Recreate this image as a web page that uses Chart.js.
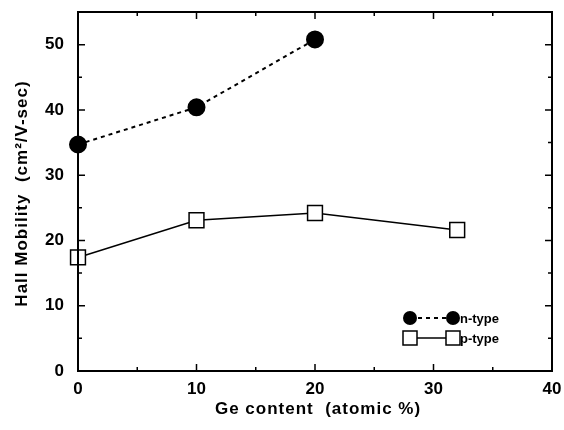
<!DOCTYPE html>
<html>
<head>
<meta charset="utf-8">
<script src="https://cdn.jsdelivr.net/npm/chart.js@4"></script>
<style>
  html, body { margin: 0; padding: 0; background: #fff; }
  #wrap { width: 564px; height: 430px; }
</style>
</head>
<body>
<div id="wrap"><canvas id="c" width="564" height="430"></canvas></div>
<script>
// Ge content (atomic %) and Hall mobility (cm2/V-sec)
const nGe = [0, 10, 20];
const nMobility = [34.7, 40.4, 50.8];
const pGe = [0, 10, 20, 32];
const pMobility = [17.4, 23.1, 24.2, 21.6];

const xTicks = [0, 10, 20, 30, 40];
const yTicks = [0, 10, 20, 30, 40, 50];

const xTitle = 'Ge content  (atomic %)';
const yTitle = 'Hall Mobility  (cm²/V-sec)';

const FONT = '"Liberation Sans", Arial, sans-serif';

// inward ticks on all four sides, axis titles and the legend
const frameAndLegend = {
  id: 'frameAndLegend',
  afterDatasetsDraw(chart) {
    const { ctx, chartArea: a, scales } = chart;
    const xs = scales.x, ys = scales.y;
    ctx.save();
    ctx.strokeStyle = '#000';
    ctx.lineWidth = 2;
    ctx.strokeRect(a.left, a.top, a.right - a.left, a.bottom - a.top);

    ctx.lineWidth = 1.5;
    for (let v = 0; v <= 40; v += 5) {
      const px = xs.getPixelForValue(v);
      const len = v % 10 === 0 ? 7 : 4;
      ctx.beginPath();
      ctx.moveTo(px, a.bottom); ctx.lineTo(px, a.bottom - len);
      ctx.moveTo(px, a.top); ctx.lineTo(px, a.top + len);
      ctx.stroke();
    }
    for (let v = 0; v <= 55; v += 5) {
      const py = ys.getPixelForValue(v);
      const len = v % 10 === 0 ? 7 : 4;
      ctx.beginPath();
      ctx.moveTo(a.left, py); ctx.lineTo(a.left + len, py);
      ctx.moveTo(a.right, py); ctx.lineTo(a.right - len, py);
      ctx.stroke();
    }

    // legend
    const lx = a.right - 142, ly1 = a.bottom - 53, ly2 = a.bottom - 33;
    ctx.lineWidth = 2;
    ctx.setLineDash([4, 4]);
    ctx.beginPath(); ctx.moveTo(lx, ly1); ctx.lineTo(lx + 43, ly1); ctx.stroke();
    ctx.setLineDash([]);
    ctx.fillStyle = '#000';
    [lx, lx + 43].forEach(x => { ctx.beginPath(); ctx.arc(x, ly1, 7, 0, Math.PI * 2); ctx.fill(); });

    ctx.lineWidth = 1.5;
    ctx.beginPath(); ctx.moveTo(lx, ly2); ctx.lineTo(lx + 43, ly2); ctx.stroke();
    [lx, lx + 43].forEach(x => {
      ctx.fillStyle = '#fff';
      ctx.fillRect(x - 7, ly2 - 7, 14, 14);
      ctx.strokeRect(x - 7, ly2 - 7, 14, 14);
    });

    ctx.fillStyle = '#000';
    ctx.font = 'bold 13px ' + FONT;
    ctx.textBaseline = 'middle';
    ctx.textAlign = 'left';
    ctx.fillText('n-type', lx + 50, ly1 + 1);
    ctx.fillText('p-type', lx + 50, ly2 + 1);

    // axis titles, spaced out like the original
    ctx.font = 'bold 17px ' + FONT;
    ctx.letterSpacing = '1px';
    ctx.textAlign = 'center';
    ctx.fillText(xTitle, (a.left + a.right) / 2 + 3, 409);
    ctx.translate(22, (a.top + a.bottom) / 2 + 2);
    ctx.rotate(-Math.PI / 2);
    ctx.fillText(yTitle, 0, 0);
    ctx.restore();
  }
};

new Chart(document.getElementById('c'), {
  type: 'scatter',
  data: {
    datasets: [
      {
        label: 'n-type',
        data: nGe.map((x, i) => ({ x, y: nMobility[i] })),
        showLine: true,
        borderColor: '#000',
        borderWidth: 2,
        borderDash: [4, 4],
        pointStyle: 'circle',
        pointRadius: 8,
        pointBackgroundColor: '#000',
        pointBorderColor: '#000',
        clip: false
      },
      {
        label: 'p-type',
        data: pGe.map((x, i) => ({ x, y: pMobility[i] })),
        showLine: true,
        borderColor: '#000',
        borderWidth: 1.5,
        pointStyle: 'rect',
        pointRadius: 10.5,
        pointBorderWidth: 1.5,
        pointBackgroundColor: '#fff',
        pointBorderColor: '#000',
        clip: false
      }
    ]
  },
  options: {
    responsive: false,
    animation: false,
    layout: { padding: { top: 3, right: 12, left: 0, bottom: 0 } },
    plugins: { legend: { display: false }, tooltip: { enabled: false } },
    scales: {
      x: {
        type: 'linear',
        min: 0, max: 40,
        afterBuildTicks: s => { s.ticks = xTicks.map(v => ({ value: v })); },
        afterFit: s => { s.height = 59; s.paddingLeft = 0; s.paddingRight = 0; },
        grid: { display: false, drawTicks: false },
        border: { display: false },
        ticks: { color: '#000', padding: 8, font: { family: FONT, size: 17, weight: 'bold' } }
      },
      y: {
        type: 'linear',
        min: 0, max: 55,
        afterBuildTicks: s => { s.ticks = yTicks.map(v => ({ value: v })); },
        afterFit: s => { s.width = 78; s.paddingTop = 0; s.paddingBottom = 0; },
        grid: { display: false, drawTicks: false },
        border: { display: false },
        ticks: { color: '#000', padding: 14, font: { family: FONT, size: 17, weight: 'bold' } }
      }
    }
  },
  plugins: [frameAndLegend]
});
</script>
</body>
</html>
